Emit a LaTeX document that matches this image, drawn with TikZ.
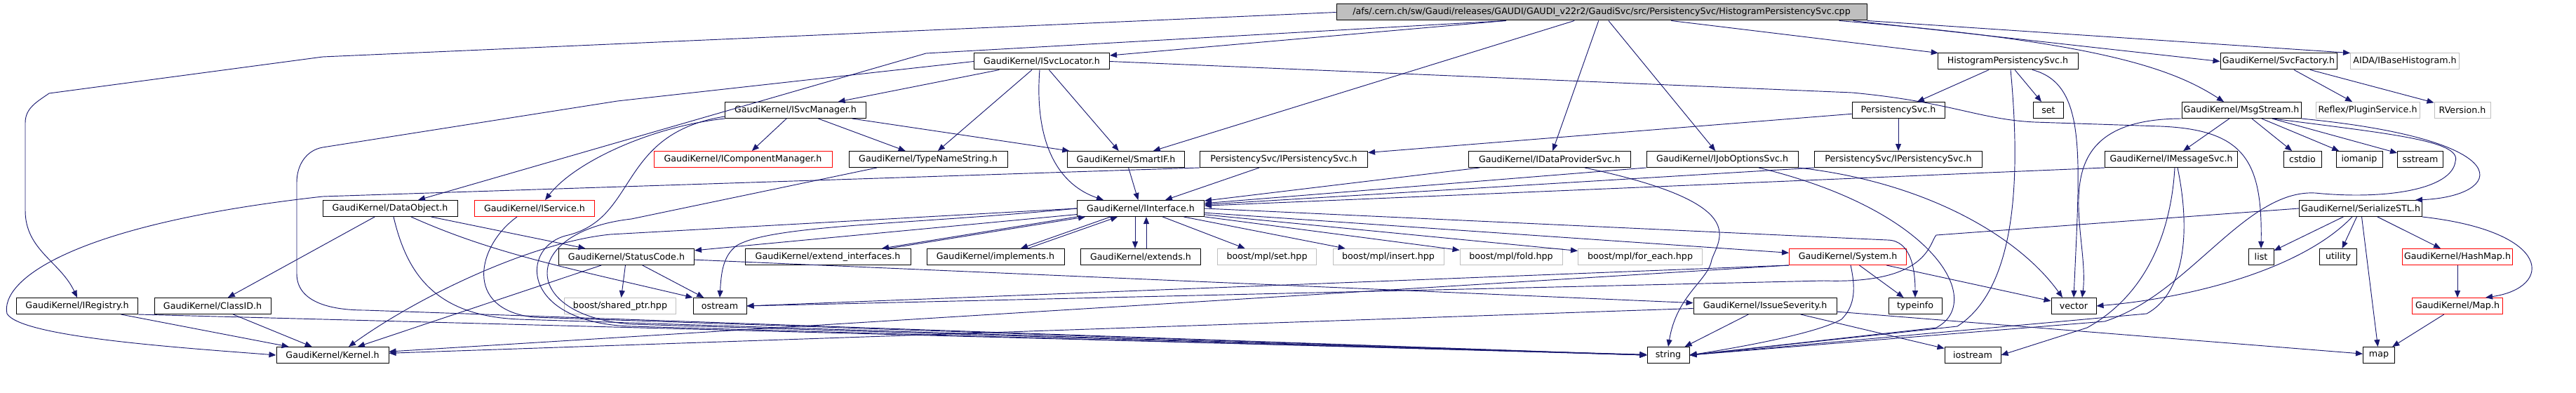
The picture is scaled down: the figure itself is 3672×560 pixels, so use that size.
\documentclass[tikz,border=0pt]{standalone}
\usepackage{fontspec}
\setmainfont{DejaVu Sans}
\usetikzlibrary{arrows.meta}
\definecolor{edgeblue}{RGB}{25,25,112}
\definecolor{boxgray}{RGB}{191,191,191}

\begin{document}
\begin{tikzpicture}[x=0.75pt, y=-0.75pt,
  box/.style={rectangle, draw, line width=0.75pt, minimum height=17.25pt,
              inner xsep=1pt, inner ysep=0pt, font=\fontsize{9.5}{11}\selectfont},
  boxw/.style={minimum width=#1*0.75pt},
  redbox/.style={box, draw=red},
  extbox/.style={box, draw=boxgray},
  arrow/.style={-{Triangle[length=7.5pt, width=6pt]}, draw=edgeblue, line width=0.7pt}
]
\useasboundingbox (0,0) rectangle (3672,560);

\node[box, fill=boxgray, boxw=756] (root) at (2283,17.5)
    {/afs/.cern.ch/sw/Gaudi/releases/GAUDI/GAUDI\_v22r2/GaudiSvc/src/PersistencySvc/HistogramPersistencySvc.cpp};

% rang 1 et 2
\node[box, boxw=193] (svcloc) at (1485,87.5) {GaudiKernel/ISvcLocator.h};
\node[box, boxw=200] (hpsh) at (2862,87.5) {HistogramPersistencySvc.h};
\node[box, boxw=166] (svcfac) at (3248,87.5) {GaudiKernel/SvcFactory.h};
\node[extbox, boxw=155] (aida) at (3428,87.5) {AIDA/IBaseHistogram.h};
\node[box, boxw=201] (svcmgr) at (1134,157) {GaudiKernel/ISvcManager.h};
\node[box, boxw=132] (persvc) at (2706,157) {PersistencySvc.h};
\node[box, boxw=43] (setinc) at (2920,157) {set};
\node[box, boxw=170] (msgstr) at (3195,157) {GaudiKernel/MsgStream.h};
\node[extbox, boxw=148] (plugin) at (3375,157) {Reflex/PluginService.h};
\node[extbox, boxw=80] (rversion) at (3510,157) {RVersion.h};

% rang 3
\node[redbox, boxw=254] (compmgr) at (1059,227) {GaudiKernel/IComponentManager.h};
\node[box, boxw=226] (typename) at (1323,227) {GaudiKernel/TypeNameString.h};
\node[box, boxw=167] (smartif) at (1605,227) {GaudiKernel/SmartIF.h};
\node[box, boxw=239] (ipers1) at (1830,227) {PersistencySvc/IPersistencySvc.h};
\node[box, boxw=231] (idataprov) at (2209,227) {GaudiKernel/IDataProviderSvc.h};
\node[box, boxw=216] (ijobopt) at (2455,227) {GaudiKernel/IJobOptionsSvc.h};
\node[box, boxw=239] (ipers2) at (2706,227) {PersistencySvc/IPersistencySvc.h};
\node[box, boxw=189] (imsgsvc) at (3095,227) {GaudiKernel/IMessageSvc.h};
\node[box, boxw=54] (cstdio) at (3282,227) {cstdio};
\node[box, boxw=66] (iomanip) at (3363,227) {iomanip};
\node[box, boxw=65] (sstream) at (3450,227) {sstream};

% rang 4 et 5
\node[box, boxw=192] (dataobj) at (556,297) {GaudiKernel/DataObject.h};
\node[redbox, boxw=171] (iservice) at (762,297) {GaudiKernel/IService.h};
\node[box, boxw=181] (iinterface) at (1626,297) {GaudiKernel/IInterface.h};
\node[box, boxw=175] (serial) at (3365,297) {GaudiKernel/SerializeSTL.h};
\node[box, boxw=193] (statuscode) at (893,366) {GaudiKernel/StatusCode.h};
\node[box, boxw=236] (extendif) at (1180,366) {GaudiKernel/extend\_interfaces.h};
\node[box, boxw=196] (implements) at (1419,366) {GaudiKernel/implements.h};
\node[box, boxw=171] (extends) at (1626,366) {GaudiKernel/extends.h};
\node[extbox, boxw=141] (mplset) at (1806,366) {boost/mpl/set.hpp};
\node[extbox, boxw=158] (mplinsert) at (1979,366) {boost/mpl/insert.hpp};
\node[extbox, boxw=146] (mplfold) at (2154,366) {boost/mpl/fold.hpp};
\node[extbox, boxw=177] (mplforeach) at (2338,366) {boost/mpl/for\_each.hpp};
\node[redbox, boxw=167] (system) at (2634,366) {GaudiKernel/System.h};
\node[box, boxw=36] (stdlist) at (3223,366) {list};
\node[box, boxw=53] (utility) at (3333,366) {utility};
\node[redbox, boxw=157] (hashmap) at (3503,366) {GaudiKernel/HashMap.h};

% rang 6 et 7
\node[box, boxw=173] (iregistry) at (110,436) {GaudiKernel/IRegistry.h};
\node[box, boxw=166] (classid) at (303,436) {GaudiKernel/ClassID.h};
\node[extbox, boxw=159] (sharedptr) at (884,436) {boost/shared\_ptr.hpp};
\node[box, boxw=76] (ostream) at (1026,436) {ostream};
\node[box, boxw=204] (issue) at (2516,436) {GaudiKernel/IssueSeverity.h};
\node[box, boxw=76] (typeinfo) at (2730,436) {typeinfo};
\node[box, boxw=64] (vectorinc) at (2956,436) {vector};
\node[redbox, boxw=129] (maph) at (3503,436) {GaudiKernel/Map.h};
\node[box, boxw=160] (kernel) at (474,506) {GaudiKernel/Kernel.h};
\node[box, boxw=60] (stdstring) at (2378,506) {string};
\node[box, boxw=80] (iostream) at (2812,506) {iostream};
\node[box, boxw=45] (stdmap) at (3391,506) {map};

% includes du fichier .cpp
\draw[arrow] (root.west) -- (460,81) -- (70,133) to[out=215,in=90] (36,175) -- (36,300) to[out=270,in=115] (iregistry.north);
\draw[arrow] (root) -- (svcloc);
\draw[arrow] ([shift={(-136,0)}]root.south) -- (1320,76) -- ([shift={(40,0)}]dataobj.north);
\draw[arrow] (root) -- (smartif);
\draw[arrow] (root) -- (idataprov);
\draw[arrow] (root) -- (ijobopt);
\draw[arrow] (root) -- (hpsh);
\draw[arrow] ([shift={(-20,0)}]root.south east) -- (svcfac.west);
\draw[arrow] (root.south east) -- (aida.north west);
\draw[arrow] ([shift={(-40,0)}]root.south east) .. controls (3000,60) and (3100,100) .. ([shift={(-25,0)}]msgstr.north);

\draw[arrow] (hpsh) -- (persvc);
\draw[arrow] (hpsh) -- (setinc);
\draw[arrow] ([shift={(35,0)}]hpsh.south) .. controls (2975,120) and (2965,220) .. (vectorinc.north);
\draw[arrow] ([shift={(4,0)}]hpsh.south) .. controls (2885,300) and (2860,420) .. (2790,465) -- (stdstring.east);
\draw[arrow] (persvc) -- (ipers2);
\draw[arrow] (persvc) -- (ipers1);

\draw[arrow] (svcloc) -- (svcmgr);
\draw[arrow] (svcloc) -- (typename);
\draw[arrow] (svcloc) -- (smartif);
\draw[arrow] ([shift={(-3,0)}]svcloc.south) .. controls (1475,190) and (1500,260) .. ([shift={(38,0)}]iinterface.north west);
\draw[arrow] (svcloc.east) -- (2640,132) .. controls (2780,145) and (2820,170) .. (2900,174) -- (3080,180) .. controls (3200,185) and (3225,230) .. (stdlist.north);
\draw[arrow] (svcloc.west) -- (880,144) -- (460,210) to[out=190,in=90] (423,260) -- (423,390) to[out=270,in=180] (520,442) -- (stdstring.west);

\draw[arrow] (svcmgr) -- (compmgr);
\draw[arrow] (svcmgr) -- (typename);
\draw[arrow] (svcmgr) -- (smartif);
\draw[arrow] (svcmgr.south west) .. controls (930,180) and (820,230) .. ([shift={(15,0)}]iservice.north);
\draw[arrow] ([shift={(0,-3)}]svcmgr.south west) .. controls (880,190) and (910,310) .. (810,335) .. controls (740,350) and (740,460) .. (900,465) -- (stdstring.west);
\draw[arrow] ([shift={(-25,0)}]iservice.south) .. controls (680,350) and (660,440) .. (760,452) -- (stdstring.west);
\draw[arrow] ([shift={(-73,0)}]typename.south) -- (900,312) .. controls (740,330) and (740,450) .. (900,462) -- (stdstring.west);
\draw[arrow] (smartif) -- (iinterface);

\draw[arrow] (ipers1) -- (iinterface);
\draw[arrow] (ipers1.south west) -- (460,280) .. controls (100,320) and (0,400) .. (10,447) .. controls (30,480) and (250,495) .. (kernel.west);
\draw[arrow] (idataprov) -- (iinterface);
\draw[arrow] ([shift={(50,0)}]idataprov.south) .. controls (2500,290) and (2450,340) .. (2440,370) .. controls (2435,400) and (2390,420) .. (stdstring.north);
\draw[arrow] (ijobopt.south west) -- (iinterface);
\draw[arrow] (ijobopt.south east) .. controls (2750,260) and (2880,340) .. ([shift={(-16,0)}]vectorinc.north);
\draw[arrow] ([shift={(52,0)}]ijobopt.south) .. controls (2760,300) and (2830,430) .. (2760,467) -- (stdstring.east);
\draw[arrow] (ipers2.south west) -- (iinterface);
\draw[arrow] (imsgsvc.south west) -- (iinterface);
\draw[arrow] ([shift={(5,0)}]imsgsvc.south) .. controls (3095,330) and (3060,420) .. (2975,467) -- (iostream.east);
\draw[arrow] ([shift={(9,0)}]imsgsvc.south) .. controls (3125,340) and (3110,420) .. (3060,447) -- (stdstring.east);

\draw[arrow] (msgstr) -- (imsgsvc);
\draw[arrow] (msgstr) -- (cstdio);
\draw[arrow] (msgstr) -- (iomanip);
\draw[arrow] (msgstr) -- (sstream);
\draw[arrow] (msgstr.south east) .. controls (3600,200) and (3570,280) .. ([shift={(-10,0)}]serial.north east);
\draw[arrow] ([shift={(45,0)}]msgstr.south) .. controls (3400,190) and (3510,200) .. (3500,230) .. controls (3495,270) and (3400,285) .. (3300,275) .. controls (3200,270) and (3120,420) .. (3000,458) -- (stdstring.east);
\draw[arrow] (msgstr.south west) .. controls (2900,170) and (2980,330) .. ([shift={(12,0)}]vectorinc.north);

\draw[arrow] (serial) -- (stdlist);
\draw[arrow] (serial) -- (utility);
\draw[arrow] (serial) -- (stdmap);
\draw[arrow] (serial) -- (hashmap);
\draw[arrow] (serial.south east) .. controls (3640,330) and (3640,410) .. ([shift={(40,0)}]maph.north);
\draw[arrow] ([shift={(-12,0)}]serial.south) .. controls (3280,385) and (3120,425) .. (vectorinc.east);
\draw[arrow] (serial.west) -- (2760,335) .. controls (2750,345) and (2750,405) .. (2600,400) -- (ostream.east);
\draw[arrow] (hashmap) -- (maph);
\draw[arrow] (maph) -- (stdmap);
\draw[arrow] (svcfac) -- (plugin);
\draw[arrow] (svcfac) -- (rversion);

\draw[arrow] (dataobj) -- (classid);
\draw[arrow] (dataobj) -- (statuscode);
\draw[arrow] ([shift={(30,0)}]dataobj.south) .. controls (700,360) and (800,380) .. (ostream.north west);
\draw[arrow] ([shift={(5,0)}]dataobj.south) .. controls (580,390) and (620,450) .. (740,455) -- (stdstring.west);
\draw[arrow] (statuscode) -- (sharedptr);
\draw[arrow] (statuscode) -- (ostream);
\draw[arrow] (statuscode) -- (kernel);
\draw[arrow] (statuscode) -- (issue);

% IInterface et ses inclusions croisees
\draw[arrow] ([shift={(-8,0)}]iinterface.south) -- ([shift={(-8,0)}]extends.north);
\draw[arrow] ([shift={(8,0)}]extends.north) -- ([shift={(8,0)}]iinterface.south);
\draw[arrow] ([shift={(-43,0)}]iinterface.south) -- ([shift={(36,0)}]implements.north);
\draw[arrow] ([shift={(46,0)}]implements.north) -- ([shift={(-33,0)}]iinterface.south);
\draw[arrow] (iinterface.south west) -- ([shift={(77,0)}]extendif.north);
\draw[arrow] ([shift={(87,0)}]extendif.north) -- ([shift={(12,0)}]iinterface.south west);
\draw[arrow] (iinterface) -- (statuscode);
\draw[arrow] (iinterface.west) .. controls (1300,320) and (1100,320) .. (1050,350) .. controls (1030,365) and (1028,390) .. (ostream.north);
\draw[arrow] (iinterface.west) -- (870,334) .. controls (760,345) and (600,420) .. ([shift={(23,0)}]kernel.north);
\draw[arrow] (iinterface) -- (mplset);
\draw[arrow] (iinterface) -- (mplinsert);
\draw[arrow] (iinterface) -- (mplfold);
\draw[arrow] (iinterface) -- (mplforeach);
\draw[arrow] (iinterface) -- (system);
\draw[arrow] (iinterface.east) -- (2690,342) to[out=0,in=90] (typeinfo.north);

\draw[arrow] (system) -- (typeinfo);
\draw[arrow] (system) -- (vectorinc);
\draw[arrow] ([shift={(4,0)}]system.south) .. controls (2645,410) and (2645,435) .. (2625,455) .. controls (2590,475) and (2480,495) .. (stdstring.east);
\draw[arrow] (system.south west) -- (kernel);
\draw[arrow] (system.south west) -- (ostream.east);
\draw[arrow] (issue) -- (stdstring);
\draw[arrow] (issue) -- (iostream);
\draw[arrow] (issue) -- (stdmap);
\draw[arrow] (issue) -- (kernel);

\draw[arrow] (iregistry) -- (kernel);
\draw[arrow] (iregistry.south east) -- (stdstring);
\draw[arrow] (classid) -- (kernel);
\end{tikzpicture}
\end{document}
